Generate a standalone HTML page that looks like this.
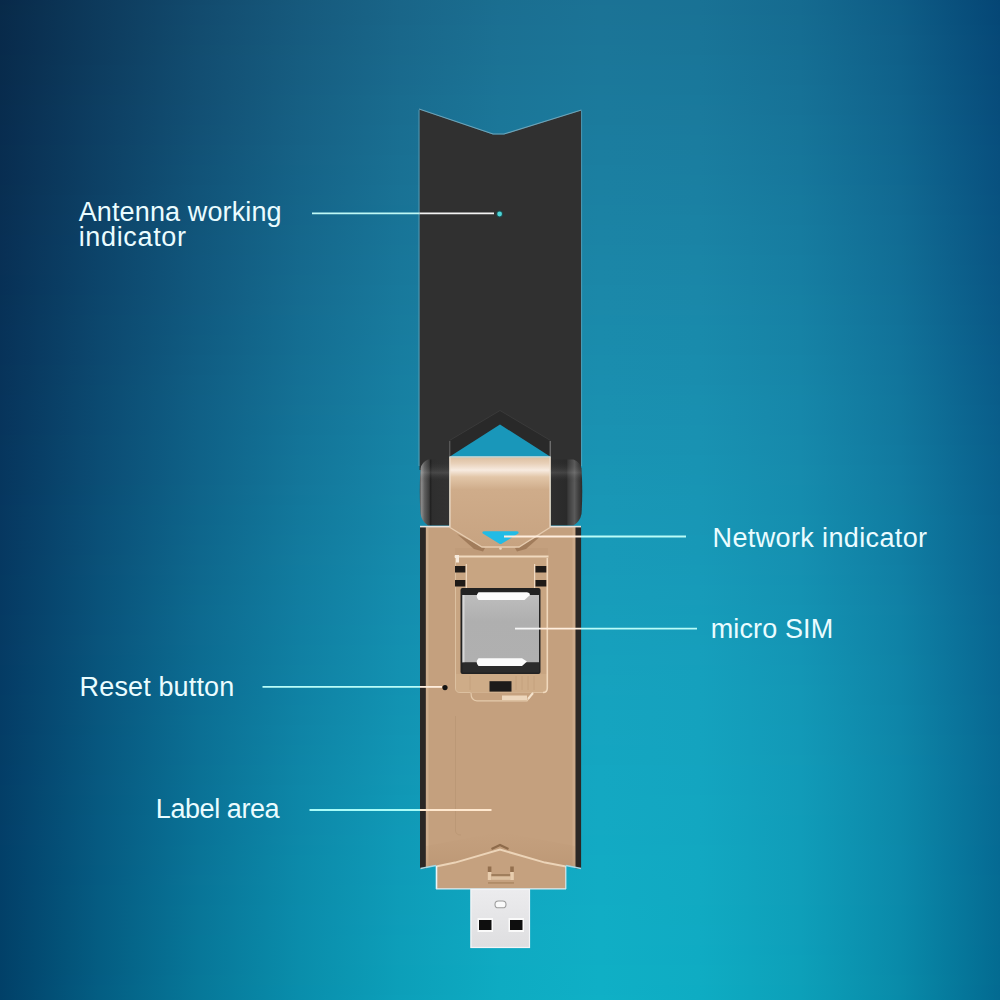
<!DOCTYPE html>
<html><head><meta charset="utf-8">
<style>
html,body{margin:0;padding:0;width:1000px;height:1000px;overflow:hidden;background:#0e6f96}
#bg{position:absolute;left:0;top:0;width:1000px;height:1000px}
#bg i{position:absolute;left:0;width:1000px;height:5px;display:block}
svg{position:absolute;left:0;top:0}
.t{position:absolute;font-family:"Liberation Sans",sans-serif;color:#eafcff;font-size:27px;line-height:24.6px;white-space:nowrap;letter-spacing:0px}
</style></head><body>
<div id="bg">
<i style="top:0px;background:linear-gradient(90deg,#082949 0px,#0d3a5c 100px,#124a6d 200px,#16597c 300px,#196588 400px,#1a6e90 500px,#1b7295 600px,#197295 700px,#156b90 800px,#0e5c86 900px,#054675 1000px)"></i>
<i style="top:5px;background:linear-gradient(90deg,#082a49 0px,#0d3a5c 100px,#124b6e 200px,#16597d 300px,#196588 400px,#1a6e91 500px,#1b7395 600px,#197295 700px,#156b90 800px,#0e5d86 900px,#054676 1000px)"></i>
<i style="top:10px;background:linear-gradient(90deg,#082a49 0px,#0d3b5d 100px,#124b6e 200px,#165a7d 300px,#196689 400px,#1b6f91 500px,#1b7396 600px,#197296 700px,#156b91 800px,#0e5d86 900px,#054776 1000px)"></i>
<i style="top:15px;background:linear-gradient(90deg,#082a4a 0px,#0d3b5d 100px,#124b6e 200px,#165a7d 300px,#196689 400px,#1b6f92 500px,#1b7396 600px,#197396 700px,#156c91 800px,#0e5d87 900px,#054776 1000px)"></i>
<i style="top:20px;background:linear-gradient(90deg,#082a4a 0px,#0d3b5d 100px,#124b6f 200px,#165a7d 300px,#196689 400px,#1b6f92 500px,#1b7496 600px,#197396 700px,#156c91 800px,#0e5e87 900px,#054776 1000px)"></i>
<i style="top:25px;background:linear-gradient(90deg,#082a4a 0px,#0d3b5d 100px,#124c6f 200px,#165a7e 300px,#19678a 400px,#1b7092 500px,#1b7497 600px,#197397 700px,#156c92 800px,#0f5e87 900px,#054877 1000px)"></i>
<i style="top:30px;background:linear-gradient(90deg,#082a4a 0px,#0d3b5e 100px,#124c6f 200px,#165b7e 300px,#19678a 400px,#1b7093 500px,#1b7597 600px,#197497 700px,#156d92 800px,#0f5e87 900px,#054877 1000px)"></i>
<i style="top:35px;background:linear-gradient(90deg,#082a4a 0px,#0d3b5e 100px,#124c6f 200px,#165b7e 300px,#19678a 400px,#1b7093 500px,#1b7597 600px,#197497 700px,#156d92 800px,#0f5f88 900px,#064877 1000px)"></i>
<i style="top:40px;background:linear-gradient(90deg,#082a4b 0px,#0d3c5e 100px,#124c70 200px,#165b7f 300px,#19688b 400px,#1b7193 500px,#1b7598 600px,#197598 700px,#156d93 800px,#0f5f88 900px,#064977 1000px)"></i>
<i style="top:45px;background:linear-gradient(90deg,#082a4b 0px,#0d3c5e 100px,#124d70 200px,#165c7f 300px,#19688b 400px,#1b7194 500px,#1b7698 600px,#197598 700px,#156e93 800px,#0f5f88 900px,#064978 1000px)"></i>
<i style="top:50px;background:linear-gradient(90deg,#082a4b 0px,#0d3c5f 100px,#124d70 200px,#165c7f 300px,#19688c 400px,#1b7294 500px,#1b7699 600px,#197598 700px,#156e93 800px,#0f6089 900px,#064978 1000px)"></i>
<i style="top:55px;background:linear-gradient(90deg,#082b4b 0px,#0d3c5f 100px,#124d71 200px,#165c80 300px,#19698c 400px,#1b7294 500px,#1b7699 600px,#197699 700px,#156e94 800px,#0f6089 900px,#064978 1000px)"></i>
<i style="top:60px;background:linear-gradient(90deg,#082b4c 0px,#0d3c5f 100px,#124d71 200px,#165d80 300px,#19698c 400px,#1b7295 500px,#1b7799 600px,#197699 700px,#156f94 800px,#0f6089 900px,#064a79 1000px)"></i>
<i style="top:65px;background:linear-gradient(90deg,#082b4c 0px,#0d3d60 100px,#124d71 200px,#165d80 300px,#19698d 400px,#1b7395 500px,#1b779a 600px,#19769a 700px,#156f94 800px,#0f618a 900px,#064a79 1000px)"></i>
<i style="top:70px;background:linear-gradient(90deg,#082b4c 0px,#0d3d60 100px,#124e72 200px,#165d81 300px,#196a8d 400px,#1b7395 500px,#1b789a 600px,#19779a 700px,#167095 800px,#0f618a 900px,#064a79 1000px)"></i>
<i style="top:75px;background:linear-gradient(90deg,#082b4c 0px,#0d3d60 100px,#124e72 200px,#165d81 300px,#196a8d 400px,#1b7396 500px,#1b789a 600px,#19779a 700px,#167095 800px,#0f618a 900px,#064b79 1000px)"></i>
<i style="top:80px;background:linear-gradient(90deg,#082b4c 0px,#0d3d60 100px,#124e72 200px,#165e81 300px,#196a8e 400px,#1b7496 500px,#1b789b 600px,#19789b 700px,#167095 800px,#0f628b 900px,#064b7a 1000px)"></i>
<i style="top:85px;background:linear-gradient(90deg,#082b4d 0px,#0d3d61 100px,#124e72 200px,#165e82 300px,#196b8e 400px,#1b7497 500px,#1b799b 600px,#19789b 700px,#167196 800px,#0f628b 900px,#064b7a 1000px)"></i>
<i style="top:90px;background:linear-gradient(90deg,#082b4d 0px,#0d3d61 100px,#124f73 200px,#165e82 300px,#196b8e 400px,#1b7497 500px,#1b799b 600px,#19789b 700px,#167196 800px,#10628b 900px,#074c7a 1000px)"></i>
<i style="top:95px;background:linear-gradient(90deg,#082b4d 0px,#0d3e61 100px,#124f73 200px,#165f82 300px,#196c8f 400px,#1b7597 500px,#1b799c 600px,#19799c 700px,#167196 800px,#10638c 900px,#074c7b 1000px)"></i>
<i style="top:100px;background:linear-gradient(90deg,#082c4d 0px,#0d3e61 100px,#124f73 200px,#165f83 300px,#196c8f 400px,#1b7598 500px,#1b7a9c 600px,#19799c 700px,#167297 800px,#10638c 900px,#074c7b 1000px)"></i>
<i style="top:105px;background:linear-gradient(90deg,#082c4e 0px,#0d3e62 100px,#124f74 200px,#165f83 300px,#196c8f 400px,#1b7598 500px,#1b7a9c 600px,#1a799c 700px,#167297 800px,#10638c 900px,#074c7b 1000px)"></i>
<i style="top:110px;background:linear-gradient(90deg,#082c4e 0px,#0d3e62 100px,#125074 200px,#166083 300px,#196d90 400px,#1b7698 500px,#1b7b9d 600px,#1a7a9d 700px,#167297 800px,#10648c 900px,#074d7b 1000px)"></i>
<i style="top:115px;background:linear-gradient(90deg,#082c4e 0px,#0d3e62 100px,#125074 200px,#166084 300px,#196d90 400px,#1b7699 500px,#1b7b9d 600px,#1a7a9d 700px,#167398 800px,#10648d 900px,#074d7c 1000px)"></i>
<i style="top:120px;background:linear-gradient(90deg,#082c4e 0px,#0d3f63 100px,#125075 200px,#166084 300px,#196d90 400px,#1b7799 500px,#1b7b9d 600px,#1a7b9d 700px,#167398 800px,#10648d 900px,#074d7c 1000px)"></i>
<i style="top:125px;background:linear-gradient(90deg,#082c4f 0px,#0d3f63 100px,#125175 200px,#166084 300px,#196e91 400px,#1b7799 500px,#1b7c9e 600px,#1a7b9e 700px,#167498 800px,#10658d 900px,#074e7c 1000px)"></i>
<i style="top:130px;background:linear-gradient(90deg,#082c4f 0px,#0d3f63 100px,#125175 200px,#166185 300px,#196e91 400px,#1b779a 500px,#1b7c9e 600px,#1a7b9e 700px,#167499 800px,#10658e 900px,#074e7c 1000px)"></i>
<i style="top:135px;background:linear-gradient(90deg,#082c4f 0px,#0d3f63 100px,#125176 200px,#166185 300px,#196e91 400px,#1b789a 500px,#1b7c9f 600px,#1a7c9e 700px,#167499 800px,#10658e 900px,#074e7d 1000px)"></i>
<i style="top:140px;background:linear-gradient(90deg,#082c4f 0px,#0d3f64 100px,#125176 200px,#166185 300px,#196f92 400px,#1b789a 500px,#1b7d9f 600px,#1a7c9f 700px,#167599 800px,#10668e 900px,#074e7d 1000px)"></i>
<i style="top:145px;background:linear-gradient(90deg,#082d4f 0px,#0d4064 100px,#125276 200px,#166286 300px,#196f92 400px,#1b789b 500px,#1b7d9f 600px,#1a7c9f 700px,#16759a 800px,#10668f 900px,#074f7d 1000px)"></i>
<i style="top:150px;background:linear-gradient(90deg,#082d50 0px,#0d4064 100px,#115276 200px,#166286 300px,#196f92 400px,#1b799b 500px,#1b7ea0 600px,#1a7d9f 700px,#16759a 800px,#10668f 900px,#084f7e 1000px)"></i>
<i style="top:155px;background:linear-gradient(90deg,#082d50 0px,#0d4064 100px,#115277 200px,#166286 300px,#197093 400px,#1b799b 500px,#1b7ea0 600px,#1a7da0 700px,#16769a 800px,#10678f 900px,#084f7e 1000px)"></i>
<i style="top:160px;background:linear-gradient(90deg,#082d50 0px,#0d4065 100px,#115277 200px,#166387 300px,#197093 400px,#1b7a9c 500px,#1b7ea0 600px,#1a7ea0 700px,#16769b 800px,#10678f 900px,#08507e 1000px)"></i>
<i style="top:165px;background:linear-gradient(90deg,#082d50 0px,#0d4065 100px,#115377 200px,#156387 300px,#197093 400px,#1b7a9c 500px,#1b7fa1 600px,#1a7ea0 700px,#16769b 800px,#106790 900px,#08507e 1000px)"></i>
<i style="top:170px;background:linear-gradient(90deg,#082d51 0px,#0d4165 100px,#115378 200px,#156387 300px,#197194 400px,#1b7a9d 500px,#1b7fa1 600px,#1a7ea1 700px,#16779b 800px,#106890 900px,#08507f 1000px)"></i>
<i style="top:175px;background:linear-gradient(90deg,#082d51 0px,#0d4165 100px,#115378 200px,#156388 300px,#197194 400px,#1b7b9d 500px,#1b7fa1 600px,#1a7fa1 700px,#16779c 800px,#106890 900px,#08507f 1000px)"></i>
<i style="top:180px;background:linear-gradient(90deg,#082d51 0px,#0d4166 100px,#115378 200px,#156488 300px,#197194 400px,#1b7b9d 500px,#1b80a2 600px,#1a7fa1 700px,#16779c 800px,#106891 900px,#08517f 1000px)"></i>
<i style="top:185px;background:linear-gradient(90deg,#082e51 0px,#0d4166 100px,#115479 200px,#156488 300px,#197295 400px,#1b7b9e 500px,#1b80a2 600px,#1a7fa2 700px,#16789c 800px,#116991 900px,#08517f 1000px)"></i>
<i style="top:190px;background:linear-gradient(90deg,#082e51 0px,#0d4166 100px,#115479 200px,#156489 300px,#197295 400px,#1b7c9e 500px,#1b81a2 600px,#1a80a2 700px,#16789d 800px,#116991 900px,#085180 1000px)"></i>
<i style="top:195px;background:linear-gradient(90deg,#082e52 0px,#0d4267 100px,#115479 200px,#156589 300px,#197295 400px,#1b7c9e 500px,#1b81a3 600px,#1a80a2 700px,#16799d 800px,#116992 900px,#085280 1000px)"></i>
<i style="top:200px;background:linear-gradient(90deg,#082e52 0px,#0d4267 100px,#115479 200px,#156589 300px,#197396 400px,#1b7c9f 500px,#1b81a3 600px,#1a80a3 700px,#16799d 800px,#116a92 900px,#085280 1000px)"></i>
<i style="top:205px;background:linear-gradient(90deg,#082e52 0px,#0d4267 100px,#11557a 200px,#15658a 300px,#187396 400px,#1a7d9f 500px,#1b82a3 600px,#1a81a3 700px,#16799e 800px,#116a92 900px,#085280 1000px)"></i>
<i style="top:210px;background:linear-gradient(90deg,#082e52 0px,#0d4267 100px,#11557a 200px,#15668a 300px,#187397 400px,#1a7d9f 500px,#1b82a4 600px,#1a81a3 700px,#167a9e 800px,#116a92 900px,#085281 1000px)"></i>
<i style="top:215px;background:linear-gradient(90deg,#082e53 0px,#0d4268 100px,#11557a 200px,#15668a 300px,#187497 400px,#1a7ea0 500px,#1b82a4 600px,#1a82a4 700px,#167a9e 800px,#116b93 900px,#085381 1000px)"></i>
<i style="top:220px;background:linear-gradient(90deg,#082f53 0px,#0d4368 100px,#11557b 200px,#15668b 300px,#187497 400px,#1a7ea0 500px,#1b83a4 600px,#1a82a4 700px,#167a9e 800px,#116b93 900px,#085381 1000px)"></i>
<i style="top:225px;background:linear-gradient(90deg,#082f53 0px,#0d4368 100px,#11567b 200px,#15678b 300px,#187498 400px,#1a7ea0 500px,#1b83a5 600px,#1a82a4 700px,#167b9f 800px,#116b93 900px,#085381 1000px)"></i>
<i style="top:230px;background:linear-gradient(90deg,#082f53 0px,#0d4368 100px,#11567b 200px,#15678b 300px,#187598 400px,#1a7fa1 500px,#1b84a5 600px,#1a83a5 700px,#167b9f 800px,#116c94 900px,#085482 1000px)"></i>
<i style="top:235px;background:linear-gradient(90deg,#082f54 0px,#0c4369 100px,#11567c 200px,#15678c 300px,#187598 400px,#1a7fa1 500px,#1b84a5 600px,#1a83a5 700px,#167b9f 800px,#116c94 900px,#095482 1000px)"></i>
<i style="top:240px;background:linear-gradient(90deg,#082f54 0px,#0c4369 100px,#11577c 200px,#15688c 300px,#187599 400px,#1a7fa1 500px,#1b84a6 600px,#1a83a5 700px,#167ca0 800px,#116c94 900px,#095482 1000px)"></i>
<i style="top:245px;background:linear-gradient(90deg,#082f54 0px,#0c4469 100px,#11577c 200px,#15688c 300px,#187699 400px,#1a80a2 500px,#1b85a6 600px,#1a84a6 700px,#167ca0 800px,#116d94 900px,#095482 1000px)"></i>
<i style="top:250px;background:linear-gradient(90deg,#082f54 0px,#0c446a 100px,#11577c 200px,#15688c 300px,#187699 400px,#1a80a2 500px,#1b85a6 600px,#1a84a6 700px,#167ca0 800px,#116d95 900px,#095583 1000px)"></i>
<i style="top:255px;background:linear-gradient(90deg,#082f54 0px,#0c446a 100px,#11577d 200px,#15688d 300px,#18769a 400px,#1a80a2 500px,#1b85a7 600px,#1a85a6 700px,#167da1 800px,#116d95 900px,#095583 1000px)"></i>
<i style="top:260px;background:linear-gradient(90deg,#083055 0px,#0c446a 100px,#11587d 200px,#15698d 300px,#18779a 400px,#1a81a3 500px,#1b86a7 600px,#1a85a7 700px,#167da1 800px,#116e95 900px,#095583 1000px)"></i>
<i style="top:265px;background:linear-gradient(90deg,#083055 0px,#0c446a 100px,#11587d 200px,#15698d 300px,#18779a 400px,#1a81a3 500px,#1b86a7 600px,#1a85a7 700px,#167da1 800px,#116e96 900px,#095683 1000px)"></i>
<i style="top:270px;background:linear-gradient(90deg,#083055 0px,#0c456b 100px,#11587e 200px,#15698e 300px,#18789b 400px,#1a82a3 500px,#1b87a8 600px,#1a86a7 700px,#167ea2 800px,#116e96 900px,#095684 1000px)"></i>
<i style="top:275px;background:linear-gradient(90deg,#073055 0px,#0c456b 100px,#11587e 200px,#156a8e 300px,#18789b 400px,#1a82a4 500px,#1b87a8 600px,#1a86a8 700px,#167ea2 800px,#116e96 900px,#095684 1000px)"></i>
<i style="top:280px;background:linear-gradient(90deg,#073056 0px,#0c456b 100px,#11597e 200px,#156a8e 300px,#18789b 400px,#1a82a4 500px,#1b87a8 600px,#1a86a8 700px,#167ea2 800px,#116f96 900px,#095684 1000px)"></i>
<i style="top:285px;background:linear-gradient(90deg,#073056 0px,#0c456b 100px,#11597e 200px,#156a8f 300px,#18799c 400px,#1a83a4 500px,#1b88a9 600px,#1a87a8 700px,#167fa2 800px,#116f97 900px,#095784 1000px)"></i>
<i style="top:290px;background:linear-gradient(90deg,#073056 0px,#0c456c 100px,#11597f 200px,#156b8f 300px,#18799c 400px,#1a83a5 500px,#1b88a9 600px,#1a87a9 700px,#167fa3 800px,#116f97 900px,#095785 1000px)"></i>
<i style="top:295px;background:linear-gradient(90deg,#073156 0px,#0c466c 100px,#11597f 200px,#156b8f 300px,#18799c 400px,#1a83a5 500px,#1b88a9 600px,#1a87a9 700px,#1680a3 800px,#117097 900px,#095785 1000px)"></i>
<i style="top:300px;background:linear-gradient(90deg,#073156 0px,#0c466c 100px,#115a7f 200px,#156b90 300px,#187a9c 400px,#1a84a5 500px,#1b89aa 600px,#1a88a9 700px,#1680a3 800px,#117097 900px,#095785 1000px)"></i>
<i style="top:305px;background:linear-gradient(90deg,#073157 0px,#0c466c 100px,#115a80 200px,#156c90 300px,#187a9d 400px,#1a84a6 500px,#1b89aa 600px,#1a88aa 700px,#1680a4 800px,#117098 900px,#095885 1000px)"></i>
<i style="top:310px;background:linear-gradient(90deg,#073157 0px,#0c466d 100px,#115a80 200px,#156c90 300px,#187a9d 400px,#1a84a6 500px,#1b8aaa 600px,#1a89aa 700px,#1681a4 800px,#117198 900px,#095886 1000px)"></i>
<i style="top:315px;background:linear-gradient(90deg,#073157 0px,#0c476d 100px,#105b80 200px,#146c91 300px,#187b9d 400px,#1a85a6 500px,#1a8aab 600px,#1989aa 700px,#1681a4 800px,#117198 900px,#095886 1000px)"></i>
<i style="top:320px;background:linear-gradient(90deg,#073157 0px,#0c476d 100px,#105b81 200px,#146d91 300px,#187b9e 400px,#1a85a7 500px,#1a8aab 600px,#1989ab 700px,#1681a5 800px,#117198 900px,#095886 1000px)"></i>
<i style="top:325px;background:linear-gradient(90deg,#073158 0px,#0c476d 100px,#105b81 200px,#146d91 300px,#187b9e 400px,#1a86a7 500px,#1a8bab 600px,#198aab 700px,#1682a5 800px,#117299 900px,#095986 1000px)"></i>
<i style="top:330px;background:linear-gradient(90deg,#073258 0px,#0c476e 100px,#105b81 200px,#146d92 300px,#187c9e 400px,#1a86a7 500px,#1a8bac 600px,#198aab 700px,#1682a5 800px,#117299 900px,#095986 1000px)"></i>
<i style="top:335px;background:linear-gradient(90deg,#073258 0px,#0c476e 100px,#105c81 200px,#146d92 300px,#187c9f 400px,#1a86a8 500px,#1a8bac 600px,#198aab 700px,#1682a5 800px,#117299 900px,#095987 1000px)"></i>
<i style="top:340px;background:linear-gradient(90deg,#073258 0px,#0c486e 100px,#105c82 200px,#146e92 300px,#177c9f 400px,#1a87a8 500px,#1a8cac 600px,#198bac 700px,#1683a6 800px,#11729a 900px,#095987 1000px)"></i>
<i style="top:345px;background:linear-gradient(90deg,#073258 0px,#0c486e 100px,#105c82 200px,#146e92 300px,#177d9f 400px,#1a87a8 500px,#1a8cad 600px,#198bac 700px,#1683a6 800px,#11739a 900px,#095a87 1000px)"></i>
<i style="top:350px;background:linear-gradient(90deg,#073259 0px,#0c486f 100px,#105c82 200px,#146e93 300px,#177da0 400px,#1987a9 500px,#1a8cad 600px,#198bac 700px,#1683a6 800px,#11739a 900px,#095a87 1000px)"></i>
<i style="top:355px;background:linear-gradient(90deg,#073259 0px,#0c486f 100px,#105d83 200px,#146f93 300px,#177da0 400px,#1988a9 500px,#1a8dad 600px,#198cad 700px,#1684a7 800px,#11739a 900px,#095a88 1000px)"></i>
<i style="top:360px;background:linear-gradient(90deg,#073259 0px,#0c486f 100px,#105d83 200px,#146f93 300px,#177ea0 400px,#1988a9 500px,#1a8dae 600px,#198cad 700px,#1684a7 800px,#11749b 900px,#095a88 1000px)"></i>
<i style="top:365px;background:linear-gradient(90deg,#073359 0px,#0c496f 100px,#105d83 200px,#146f94 300px,#177ea1 400px,#1988aa 500px,#1a8dae 600px,#198cad 700px,#1684a7 800px,#11749b 900px,#095b88 1000px)"></i>
<i style="top:370px;background:linear-gradient(90deg,#07335a 0px,#0c4970 100px,#105d83 200px,#147094 300px,#177ea1 400px,#1989aa 500px,#1a8eae 600px,#198dae 700px,#1685a7 800px,#11749b 900px,#095b88 1000px)"></i>
<i style="top:375px;background:linear-gradient(90deg,#07335a 0px,#0c4970 100px,#105e84 200px,#147094 300px,#177fa1 400px,#1989aa 500px,#1a8eaf 600px,#198dae 700px,#1685a8 800px,#11759b 900px,#095b88 1000px)"></i>
<i style="top:380px;background:linear-gradient(90deg,#07335a 0px,#0b4970 100px,#105e84 200px,#147095 300px,#177fa2 400px,#1989ab 500px,#1a8faf 600px,#198dae 700px,#1685a8 800px,#11759c 900px,#095b89 1000px)"></i>
<i style="top:385px;background:linear-gradient(90deg,#07335a 0px,#0b4a70 100px,#105e84 200px,#147195 300px,#177fa2 400px,#198aab 500px,#1a8faf 600px,#198eaf 700px,#1686a8 800px,#11759c 900px,#095c89 1000px)"></i>
<i style="top:390px;background:linear-gradient(90deg,#07335a 0px,#0b4a71 100px,#105f84 200px,#147195 300px,#1780a2 400px,#198aab 500px,#1a8fb0 600px,#198eaf 700px,#1686a8 800px,#11759c 900px,#095c89 1000px)"></i>
<i style="top:395px;background:linear-gradient(90deg,#07335b 0px,#0b4a71 100px,#105f85 200px,#147195 300px,#1780a2 400px,#198aab 500px,#1a90b0 600px,#198faf 700px,#1686a9 800px,#11769c 900px,#095c89 1000px)"></i>
<i style="top:400px;background:linear-gradient(90deg,#07345b 0px,#0b4a71 100px,#105f85 200px,#147196 300px,#1780a3 400px,#198bac 500px,#1a90b0 600px,#198faf 700px,#1687a9 800px,#11769d 900px,#095c89 1000px)"></i>
<i style="top:405px;background:linear-gradient(90deg,#07345b 0px,#0b4a71 100px,#105f85 200px,#147296 300px,#1781a3 400px,#198bac 500px,#1a90b0 600px,#198fb0 700px,#1687a9 800px,#11769d 900px,#095d8a 1000px)"></i>
<i style="top:410px;background:linear-gradient(90deg,#07345b 0px,#0b4b72 100px,#106086 200px,#147296 300px,#1781a3 400px,#198cac 500px,#1a91b1 600px,#1990b0 700px,#1687aa 800px,#11779d 900px,#095d8a 1000px)"></i>
<i style="top:415px;background:linear-gradient(90deg,#07345b 0px,#0b4b72 100px,#106086 200px,#137297 300px,#1781a4 400px,#198cad 500px,#1a91b1 600px,#1990b0 700px,#1687aa 800px,#11779d 900px,#095d8a 1000px)"></i>
<i style="top:420px;background:linear-gradient(90deg,#07345c 0px,#0b4b72 100px,#0f6086 200px,#137397 300px,#1782a4 400px,#198cad 500px,#1a91b1 600px,#1990b1 700px,#1688aa 800px,#11779d 900px,#095d8a 1000px)"></i>
<i style="top:425px;background:linear-gradient(90deg,#07345c 0px,#0b4b72 100px,#0f6086 200px,#137397 300px,#1782a4 400px,#198dad 500px,#1a92b2 600px,#1991b1 700px,#1688aa 800px,#11779e 900px,#095e8a 1000px)"></i>
<i style="top:430px;background:linear-gradient(90deg,#07345c 0px,#0b4b73 100px,#0f6187 200px,#137397 300px,#1682a5 400px,#198dae 500px,#1992b2 600px,#1991b1 700px,#1688ab 800px,#11789e 900px,#095e8b 1000px)"></i>
<i style="top:435px;background:linear-gradient(90deg,#07355c 0px,#0b4c73 100px,#0f6187 200px,#137498 300px,#1683a5 400px,#198dae 500px,#1992b2 600px,#1991b1 700px,#1689ab 800px,#11789e 900px,#095e8b 1000px)"></i>
<i style="top:440px;background:linear-gradient(90deg,#06355c 0px,#0b4c73 100px,#0f6187 200px,#137498 300px,#1683a5 400px,#198eae 500px,#1993b3 600px,#1992b2 700px,#1689ab 800px,#11789e 900px,#095e8b 1000px)"></i>
<i style="top:445px;background:linear-gradient(90deg,#06355d 0px,#0b4c73 100px,#0f6187 200px,#137498 300px,#1683a5 400px,#188eae 500px,#1993b3 600px,#1992b2 700px,#1689ab 800px,#11799f 900px,#095f8b 1000px)"></i>
<i style="top:450px;background:linear-gradient(90deg,#06355d 0px,#0b4c74 100px,#0f6288 200px,#137499 300px,#1684a6 400px,#188eaf 500px,#1993b3 600px,#1892b2 700px,#168aac 800px,#11799f 900px,#095f8b 1000px)"></i>
<i style="top:455px;background:linear-gradient(90deg,#06355d 0px,#0b4c74 100px,#0f6288 200px,#137599 300px,#1684a6 400px,#188faf 500px,#1994b3 600px,#1893b3 700px,#168aac 800px,#11799f 900px,#095f8c 1000px)"></i>
<i style="top:460px;background:linear-gradient(90deg,#06355d 0px,#0b4d74 100px,#0f6288 200px,#137599 300px,#1684a6 400px,#188faf 500px,#1994b4 600px,#1893b3 700px,#168aac 800px,#11799f 900px,#095f8c 1000px)"></i>
<i style="top:465px;background:linear-gradient(90deg,#06355d 0px,#0b4d74 100px,#0f6288 200px,#137599 300px,#1685a7 400px,#188fb0 500px,#1995b4 600px,#1893b3 700px,#168bac 800px,#117aa0 900px,#095f8c 1000px)"></i>
<i style="top:470px;background:linear-gradient(90deg,#06365e 0px,#0b4d75 100px,#0f6389 200px,#13769a 300px,#1685a7 400px,#1890b0 500px,#1995b4 600px,#1894b3 700px,#168bad 800px,#117aa0 900px,#09608c 1000px)"></i>
<i style="top:475px;background:linear-gradient(90deg,#06365e 0px,#0b4d75 100px,#0f6389 200px,#13769a 300px,#1685a7 400px,#1890b0 500px,#1995b5 600px,#1894b4 700px,#168bad 800px,#117aa0 900px,#09608c 1000px)"></i>
<i style="top:480px;background:linear-gradient(90deg,#06365e 0px,#0b4d75 100px,#0f6389 200px,#13769a 300px,#1686a8 400px,#1890b1 500px,#1996b5 600px,#1894b4 700px,#168cad 800px,#117aa0 900px,#09608c 1000px)"></i>
<i style="top:485px;background:linear-gradient(90deg,#06365e 0px,#0a4e75 100px,#0f6489 200px,#13779b 300px,#1686a8 400px,#1891b1 500px,#1996b5 600px,#1895b4 700px,#158cad 800px,#117ba0 900px,#09608d 1000px)"></i>
<i style="top:490px;background:linear-gradient(90deg,#06365e 0px,#0a4e75 100px,#0f648a 200px,#13779b 300px,#1686a8 400px,#1891b1 500px,#1996b5 600px,#1895b4 700px,#158cae 800px,#117ba1 900px,#09618d 1000px)"></i>
<i style="top:495px;background:linear-gradient(90deg,#06365f 0px,#0a4e76 100px,#0f648a 200px,#12779b 300px,#1687a8 400px,#1891b1 500px,#1997b6 600px,#1895b5 700px,#158cae 800px,#117ba1 900px,#09618d 1000px)"></i>
<i style="top:500px;background:linear-gradient(90deg,#06365f 0px,#0a4e76 100px,#0f648a 200px,#12779b 300px,#1687a9 400px,#1892b2 500px,#1997b6 600px,#1896b5 700px,#158dae 800px,#117ba1 900px,#09618d 1000px)"></i>
<i style="top:505px;background:linear-gradient(90deg,#06375f 0px,#0a4f76 100px,#0e658a 200px,#12789c 300px,#1587a9 400px,#1892b2 500px,#1997b6 600px,#1896b5 700px,#158dae 800px,#107ca1 900px,#09618d 1000px)"></i>
<i style="top:510px;background:linear-gradient(90deg,#06375f 0px,#0a4f76 100px,#0e658b 200px,#12789c 300px,#1588a9 400px,#1892b2 500px,#1898b6 600px,#1896b5 700px,#158daf 800px,#107ca1 900px,#09618d 1000px)"></i>
<i style="top:515px;background:linear-gradient(90deg,#06375f 0px,#0a4f77 100px,#0e658b 200px,#12789c 300px,#1588a9 400px,#1893b2 500px,#1898b7 600px,#1896b6 700px,#158eaf 800px,#107ca2 900px,#09628e 1000px)"></i>
<i style="top:520px;background:linear-gradient(90deg,#063760 0px,#0a4f77 100px,#0e658b 200px,#12799c 300px,#1588aa 400px,#1793b3 500px,#1898b7 600px,#1897b6 700px,#158eaf 800px,#107da2 900px,#09628e 1000px)"></i>
<i style="top:525px;background:linear-gradient(90deg,#063760 0px,#0a4f77 100px,#0e668b 200px,#12799d 300px,#1588aa 400px,#1793b3 500px,#1899b7 600px,#1897b6 700px,#158eaf 800px,#107da2 900px,#09628e 1000px)"></i>
<i style="top:530px;background:linear-gradient(90deg,#063760 0px,#0a5077 100px,#0e668c 200px,#12799d 300px,#1589aa 400px,#1794b3 500px,#1899b8 600px,#1897b6 700px,#158eaf 800px,#107da2 900px,#09628e 1000px)"></i>
<i style="top:535px;background:linear-gradient(90deg,#063760 0px,#0a5077 100px,#0e668c 200px,#127a9d 300px,#1589ab 400px,#1794b4 500px,#1899b8 600px,#1798b7 700px,#158fb0 800px,#107da2 900px,#09628e 1000px)"></i>
<i style="top:540px;background:linear-gradient(90deg,#063860 0px,#0a5078 100px,#0e668c 200px,#127a9d 300px,#1589ab 400px,#1794b4 500px,#189ab8 600px,#1798b7 700px,#158fb0 800px,#107ea3 900px,#09638e 1000px)"></i>
<i style="top:545px;background:linear-gradient(90deg,#063860 0px,#0a5078 100px,#0e678c 200px,#127a9e 300px,#158aab 400px,#1795b4 500px,#189ab8 600px,#1798b7 700px,#158fb0 800px,#107ea3 900px,#09638f 1000px)"></i>
<i style="top:550px;background:linear-gradient(90deg,#063861 0px,#0a5078 100px,#0e678d 200px,#127a9e 300px,#158aab 400px,#1795b4 500px,#189ab9 600px,#1799b7 700px,#1590b0 800px,#107ea3 900px,#09638f 1000px)"></i>
<i style="top:555px;background:linear-gradient(90deg,#063861 0px,#0a5178 100px,#0e678d 200px,#127b9e 300px,#158aac 400px,#1795b5 500px,#189ab9 600px,#1799b8 700px,#1590b1 800px,#107ea3 900px,#09638f 1000px)"></i>
<i style="top:560px;background:linear-gradient(90deg,#053861 0px,#0a5178 100px,#0e678d 200px,#127b9e 300px,#158bac 400px,#1796b5 500px,#189bb9 600px,#1799b8 700px,#1590b1 800px,#107ea3 900px,#09638f 1000px)"></i>
<i style="top:565px;background:linear-gradient(90deg,#053861 0px,#0a5179 100px,#0e688d 200px,#117b9f 300px,#158bac 400px,#1796b5 500px,#189bb9 600px,#179ab8 700px,#1590b1 800px,#107fa4 900px,#09638f 1000px)"></i>
<i style="top:570px;background:linear-gradient(90deg,#053861 0px,#0a5179 100px,#0e688e 200px,#117c9f 300px,#148bac 400px,#1796b5 500px,#189bba 600px,#179ab8 700px,#1591b1 800px,#107fa4 900px,#09648f 1000px)"></i>
<i style="top:575px;background:linear-gradient(90deg,#053961 0px,#095179 100px,#0e688e 200px,#117c9f 300px,#148cad 400px,#1797b6 500px,#189cba 600px,#179ab9 700px,#1491b1 800px,#107fa4 900px,#09648f 1000px)"></i>
<i style="top:580px;background:linear-gradient(90deg,#053962 0px,#095279 100px,#0d688e 200px,#117c9f 300px,#148cad 400px,#1697b6 500px,#179cba 600px,#179ab9 700px,#1491b2 800px,#107fa4 900px,#096490 1000px)"></i>
<i style="top:585px;background:linear-gradient(90deg,#053962 0px,#095279 100px,#0d698e 200px,#117ca0 300px,#148cad 400px,#1697b6 500px,#179cba 600px,#179bb9 700px,#1492b2 800px,#1080a4 900px,#096490 1000px)"></i>
<i style="top:590px;background:linear-gradient(90deg,#053962 0px,#09527a 100px,#0d698e 200px,#117da0 300px,#148dad 400px,#1698b6 500px,#179dbb 600px,#179bb9 700px,#1492b2 800px,#1080a4 900px,#096490 1000px)"></i>
<i style="top:595px;background:linear-gradient(90deg,#053962 0px,#09527a 100px,#0d698f 200px,#117da0 300px,#148dae 400px,#1698b7 500px,#179dbb 600px,#179bb9 700px,#1492b2 800px,#1080a5 900px,#096590 1000px)"></i>
<i style="top:600px;background:linear-gradient(90deg,#053962 0px,#09527a 100px,#0d698f 200px,#117da0 300px,#148dae 400px,#1698b7 500px,#179dbb 600px,#179cba 700px,#1492b2 800px,#1080a5 900px,#096590 1000px)"></i>
<i style="top:605px;background:linear-gradient(90deg,#053962 0px,#09527a 100px,#0d6a8f 200px,#117da1 300px,#148dae 400px,#1698b7 500px,#179ebb 600px,#169cba 700px,#1493b3 800px,#1081a5 900px,#096590 1000px)"></i>
<i style="top:610px;background:linear-gradient(90deg,#053963 0px,#09537a 100px,#0d6a8f 200px,#117ea1 300px,#148eae 400px,#1699b7 500px,#179ebb 600px,#169cba 700px,#1493b3 800px,#1081a5 900px,#096590 1000px)"></i>
<i style="top:615px;background:linear-gradient(90deg,#053a63 0px,#09537b 100px,#0d6a90 200px,#117ea1 300px,#148eaf 400px,#1699b8 500px,#179ebc 600px,#169dba 700px,#1493b3 800px,#0f81a5 900px,#096590 1000px)"></i>
<i style="top:620px;background:linear-gradient(90deg,#053a63 0px,#09537b 100px,#0d6a90 200px,#117ea1 300px,#148eaf 400px,#1699b8 500px,#179fbc 600px,#169dbb 700px,#1493b3 800px,#0f81a5 900px,#086591 1000px)"></i>
<i style="top:625px;background:linear-gradient(90deg,#053a63 0px,#09537b 100px,#0d6a90 200px,#107fa1 300px,#148faf 400px,#169ab8 500px,#179fbc 600px,#169dbb 700px,#1494b3 800px,#0f81a5 900px,#086691 1000px)"></i>
<i style="top:630px;background:linear-gradient(90deg,#053a63 0px,#09537b 100px,#0d6b90 200px,#107fa2 300px,#138faf 400px,#169ab8 500px,#179fbc 600px,#169dbb 700px,#1494b4 800px,#0f82a6 900px,#086691 1000px)"></i>
<i style="top:635px;background:linear-gradient(90deg,#053a63 0px,#09547b 100px,#0d6b90 200px,#107fa2 300px,#138faf 400px,#169ab9 500px,#179fbd 600px,#169ebb 700px,#1494b4 800px,#0f82a6 900px,#086691 1000px)"></i>
<i style="top:640px;background:linear-gradient(90deg,#053a63 0px,#09547c 100px,#0d6b91 200px,#107fa2 300px,#138fb0 400px,#159bb9 500px,#16a0bd 600px,#169ebb 700px,#1494b4 800px,#0f82a6 900px,#086691 1000px)"></i>
<i style="top:645px;background:linear-gradient(90deg,#053a64 0px,#09547c 100px,#0c6b91 200px,#1080a2 300px,#1390b0 400px,#159bb9 500px,#16a0bd 600px,#169ebc 700px,#1495b4 800px,#0f82a6 900px,#086691 1000px)"></i>
<i style="top:650px;background:linear-gradient(90deg,#053b64 0px,#09547c 100px,#0c6c91 200px,#1080a3 300px,#1390b0 400px,#159bb9 500px,#16a0bd 600px,#169fbc 700px,#1395b4 800px,#0f82a6 900px,#086691 1000px)"></i>
<i style="top:655px;background:linear-gradient(90deg,#053b64 0px,#08547c 100px,#0c6c91 200px,#1080a3 300px,#1390b0 400px,#159bb9 500px,#16a1bd 600px,#169fbc 700px,#1395b4 800px,#0f83a6 900px,#086691 1000px)"></i>
<i style="top:660px;background:linear-gradient(90deg,#053b64 0px,#08557c 100px,#0c6c91 200px,#1080a3 300px,#1391b1 400px,#159cba 500px,#16a1be 600px,#169fbc 700px,#1395b5 800px,#0f83a6 900px,#086791 1000px)"></i>
<i style="top:665px;background:linear-gradient(90deg,#043b64 0px,#08557c 100px,#0c6c92 200px,#1081a3 300px,#1391b1 400px,#159cba 500px,#16a1be 600px,#159fbc 700px,#1396b5 800px,#0f83a7 900px,#086791 1000px)"></i>
<i style="top:670px;background:linear-gradient(90deg,#043b64 0px,#08557d 100px,#0c6d92 200px,#1081a3 300px,#1391b1 400px,#159cba 500px,#16a1be 600px,#15a0bd 700px,#1396b5 800px,#0f83a7 900px,#086792 1000px)"></i>
<i style="top:675px;background:linear-gradient(90deg,#043b64 0px,#08557d 100px,#0c6d92 200px,#1081a4 300px,#1391b1 400px,#159dba 500px,#16a2be 600px,#15a0bd 700px,#1396b5 800px,#0f83a7 900px,#086792 1000px)"></i>
<i style="top:680px;background:linear-gradient(90deg,#043b65 0px,#08557d 100px,#0c6d92 200px,#1081a4 300px,#1392b1 400px,#159dba 500px,#16a2be 600px,#15a0bd 700px,#1396b5 800px,#0f84a7 900px,#086792 1000px)"></i>
<i style="top:685px;background:linear-gradient(90deg,#043b65 0px,#08557d 100px,#0c6d92 200px,#0f82a4 300px,#1292b2 400px,#159dbb 500px,#16a2bf 600px,#15a0bd 700px,#1397b5 800px,#0f84a7 900px,#086792 1000px)"></i>
<i style="top:690px;background:linear-gradient(90deg,#043b65 0px,#08567d 100px,#0c6d93 200px,#0f82a4 300px,#1292b2 400px,#159dbb 500px,#16a3bf 600px,#15a1bd 700px,#1397b6 800px,#0e84a7 900px,#086792 1000px)"></i>
<i style="top:695px;background:linear-gradient(90deg,#043c65 0px,#08567d 100px,#0c6e93 200px,#0f82a4 300px,#1293b2 400px,#149ebb 500px,#15a3bf 600px,#15a1bd 700px,#1397b6 800px,#0e84a7 900px,#086892 1000px)"></i>
<i style="top:700px;background:linear-gradient(90deg,#043c65 0px,#08567e 100px,#0c6e93 200px,#0f82a5 300px,#1293b2 400px,#149ebb 500px,#15a3bf 600px,#15a1be 700px,#1397b6 800px,#0e84a7 900px,#086892 1000px)"></i>
<i style="top:705px;background:linear-gradient(90deg,#043c65 0px,#08567e 100px,#0c6e93 200px,#0f83a5 300px,#1293b2 400px,#149ebc 500px,#15a3bf 600px,#15a1be 700px,#1397b6 800px,#0e85a8 900px,#086892 1000px)"></i>
<i style="top:710px;background:linear-gradient(90deg,#043c65 0px,#08567e 100px,#0b6e93 200px,#0f83a5 300px,#1293b3 400px,#149fbc 500px,#15a4c0 600px,#15a2be 700px,#1298b6 800px,#0e85a8 900px,#076892 1000px)"></i>
<i style="top:715px;background:linear-gradient(90deg,#043c65 0px,#08567e 100px,#0b6f93 200px,#0f83a5 300px,#1294b3 400px,#149fbc 500px,#15a4c0 600px,#15a2be 700px,#1298b6 800px,#0e85a8 900px,#076892 1000px)"></i>
<i style="top:720px;background:linear-gradient(90deg,#043c66 0px,#08577e 100px,#0b6f94 200px,#0f83a5 300px,#1294b3 400px,#149fbc 500px,#15a4c0 600px,#14a2be 700px,#1298b6 800px,#0e85a8 900px,#076892 1000px)"></i>
<i style="top:725px;background:linear-gradient(90deg,#043c66 0px,#07577e 100px,#0b6f94 200px,#0f84a6 300px,#1294b3 400px,#149fbc 500px,#15a4c0 600px,#14a2be 700px,#1298b7 800px,#0e85a8 900px,#076892 1000px)"></i>
<i style="top:730px;background:linear-gradient(90deg,#043c66 0px,#07577e 100px,#0b6f94 200px,#0f84a6 300px,#1294b3 400px,#14a0bc 500px,#15a5c0 600px,#14a3bf 700px,#1299b7 800px,#0e85a8 900px,#076892 1000px)"></i>
<i style="top:735px;background:linear-gradient(90deg,#043d66 0px,#07577f 100px,#0b6f94 200px,#0f84a6 300px,#1295b4 400px,#14a0bd 500px,#15a5c1 600px,#14a3bf 700px,#1299b7 800px,#0e86a8 900px,#076992 1000px)"></i>
<i style="top:740px;background:linear-gradient(90deg,#043d66 0px,#07577f 100px,#0b7094 200px,#0e84a6 300px,#1195b4 400px,#14a0bd 500px,#15a5c1 600px,#14a3bf 700px,#1299b7 800px,#0e86a8 900px,#076992 1000px)"></i>
<i style="top:745px;background:linear-gradient(90deg,#043d66 0px,#07577f 100px,#0b7094 200px,#0e85a6 300px,#1195b4 400px,#13a0bd 500px,#14a5c1 600px,#14a3bf 700px,#1299b7 800px,#0e86a8 900px,#076992 1000px)"></i>
<i style="top:750px;background:linear-gradient(90deg,#043d66 0px,#07587f 100px,#0b7095 200px,#0e85a6 300px,#1195b4 400px,#13a1bd 500px,#14a6c1 600px,#14a4bf 700px,#1299b7 800px,#0e86a8 900px,#076993 1000px)"></i>
<i style="top:755px;background:linear-gradient(90deg,#043d66 0px,#07587f 100px,#0b7095 200px,#0e85a7 300px,#1196b4 400px,#13a1bd 500px,#14a6c1 600px,#14a4bf 700px,#129ab7 800px,#0d86a9 900px,#076993 1000px)"></i>
<i style="top:760px;background:linear-gradient(90deg,#033d66 0px,#07587f 100px,#0b7095 200px,#0e85a7 300px,#1196b4 400px,#13a1be 500px,#14a6c1 600px,#14a4bf 700px,#129ab7 800px,#0d86a9 900px,#076993 1000px)"></i>
<i style="top:765px;background:linear-gradient(90deg,#033d67 0px,#07587f 100px,#0b7195 200px,#0e86a7 300px,#1196b5 400px,#13a2be 500px,#14a7c2 600px,#14a4c0 700px,#119ab8 800px,#0d87a9 900px,#076993 1000px)"></i>
<i style="top:770px;background:linear-gradient(90deg,#033d67 0px,#07587f 100px,#0a7195 200px,#0e86a7 300px,#1196b5 400px,#13a2be 500px,#14a7c2 600px,#13a5c0 700px,#119ab8 800px,#0d87a9 900px,#076993 1000px)"></i>
<i style="top:775px;background:linear-gradient(90deg,#033d67 0px,#075880 100px,#0a7195 200px,#0e86a7 300px,#1197b5 400px,#13a2be 500px,#14a7c2 600px,#13a5c0 700px,#119ab8 800px,#0d87a9 900px,#076993 1000px)"></i>
<i style="top:780px;background:linear-gradient(90deg,#033d67 0px,#075980 100px,#0a7195 200px,#0e86a7 300px,#1197b5 400px,#13a2be 500px,#14a7c2 600px,#13a5c0 700px,#119bb8 800px,#0d87a9 900px,#076993 1000px)"></i>
<i style="top:785px;background:linear-gradient(90deg,#033e67 0px,#075980 100px,#0a7196 200px,#0e87a8 300px,#1097b5 400px,#13a3be 500px,#14a7c2 600px,#13a5c0 700px,#119bb8 800px,#0d87a9 900px,#066993 1000px)"></i>
<i style="top:790px;background:linear-gradient(90deg,#033e67 0px,#075980 100px,#0a7296 200px,#0d87a8 300px,#1097b5 400px,#12a3be 500px,#13a8c2 600px,#13a5c0 700px,#119bb8 800px,#0d87a9 900px,#066a93 1000px)"></i>
<i style="top:795px;background:linear-gradient(90deg,#033e67 0px,#065980 100px,#0a7296 200px,#0d87a8 300px,#1098b6 400px,#12a3bf 500px,#13a8c2 600px,#13a6c0 700px,#119bb8 800px,#0d87a9 900px,#066a93 1000px)"></i>
<i style="top:800px;background:linear-gradient(90deg,#033e67 0px,#065980 100px,#0a7296 200px,#0d87a8 300px,#1098b6 400px,#12a3bf 500px,#13a8c3 600px,#13a6c1 700px,#119bb8 800px,#0d88a9 900px,#066a93 1000px)"></i>
<i style="top:805px;background:linear-gradient(90deg,#033e67 0px,#065980 100px,#0a7296 200px,#0d87a8 300px,#1098b6 400px,#12a3bf 500px,#13a8c3 600px,#13a6c1 700px,#119bb8 800px,#0d88a9 900px,#066a93 1000px)"></i>
<i style="top:810px;background:linear-gradient(90deg,#033e67 0px,#065a80 100px,#0a7296 200px,#0d88a8 300px,#1098b6 400px,#12a4bf 500px,#13a9c3 600px,#13a6c1 700px,#119cb8 800px,#0c88a9 900px,#066a93 1000px)"></i>
<i style="top:815px;background:linear-gradient(90deg,#033e67 0px,#065a81 100px,#0a7396 200px,#0d88a8 300px,#1099b6 400px,#12a4bf 500px,#13a9c3 600px,#13a6c1 700px,#109cb8 800px,#0c88a9 900px,#066a93 1000px)"></i>
<i style="top:820px;background:linear-gradient(90deg,#033e67 0px,#065a81 100px,#0a7397 200px,#0d88a9 300px,#1099b6 400px,#12a4bf 500px,#13a9c3 600px,#12a7c1 700px,#109cb9 800px,#0c88a9 900px,#066a93 1000px)"></i>
<i style="top:825px;background:linear-gradient(90deg,#033e68 0px,#065a81 100px,#0a7397 200px,#0d88a9 300px,#1099b7 400px,#12a4c0 500px,#13a9c3 600px,#12a7c1 700px,#109cb9 800px,#0c88a9 900px,#066a93 1000px)"></i>
<i style="top:830px;background:linear-gradient(90deg,#033e68 0px,#065a81 100px,#097397 200px,#0d88a9 300px,#1099b7 400px,#12a5c0 500px,#13aac3 600px,#12a7c1 700px,#109cb9 800px,#0c88a9 900px,#066a93 1000px)"></i>
<i style="top:835px;background:linear-gradient(90deg,#033e68 0px,#065a81 100px,#097397 200px,#0d89a9 300px,#0f9ab7 400px,#11a5c0 500px,#12aac3 600px,#12a7c1 700px,#109cb9 800px,#0c88a9 900px,#066a93 1000px)"></i>
<i style="top:840px;background:linear-gradient(90deg,#033f68 0px,#065a81 100px,#097397 200px,#0d89a9 300px,#0f9ab7 400px,#11a5c0 500px,#12aac4 600px,#12a7c1 700px,#109db9 800px,#0c89a9 900px,#066a93 1000px)"></i>
<i style="top:845px;background:linear-gradient(90deg,#023f68 0px,#065a81 100px,#097497 200px,#0c89a9 300px,#0f9ab7 400px,#11a5c0 500px,#12aac4 600px,#12a8c1 700px,#109db9 800px,#0c89aa 900px,#056a93 1000px)"></i>
<i style="top:850px;background:linear-gradient(90deg,#023f68 0px,#065b81 100px,#097497 200px,#0c89a9 300px,#0f9ab7 400px,#11a6c0 500px,#12aac4 600px,#12a8c2 700px,#109db9 800px,#0c89aa 900px,#056a93 1000px)"></i>
<i style="top:855px;background:linear-gradient(90deg,#023f68 0px,#065b81 100px,#097497 200px,#0c8aa9 300px,#0f9ab7 400px,#11a6c0 500px,#12abc4 600px,#12a8c2 700px,#109db9 800px,#0c89aa 900px,#056a93 1000px)"></i>
<i style="top:860px;background:linear-gradient(90deg,#023f68 0px,#065b81 100px,#097497 200px,#0c8aaa 300px,#0f9bb7 400px,#11a6c0 500px,#12abc4 600px,#11a8c2 700px,#0f9db9 800px,#0b89aa 900px,#056a93 1000px)"></i>
<i style="top:865px;background:linear-gradient(90deg,#023f68 0px,#055b81 100px,#097498 200px,#0c8aaa 300px,#0f9bb8 400px,#11a6c0 500px,#12abc4 600px,#11a8c2 700px,#0f9db9 800px,#0b89aa 900px,#056a93 1000px)"></i>
<i style="top:870px;background:linear-gradient(90deg,#023f68 0px,#055b82 100px,#097498 200px,#0c8aaa 300px,#0f9bb8 400px,#11a6c1 500px,#12abc4 600px,#11a9c2 700px,#0f9eb9 800px,#0b89aa 900px,#056a93 1000px)"></i>
<i style="top:875px;background:linear-gradient(90deg,#023f68 0px,#055b82 100px,#097598 200px,#0c8aaa 300px,#0f9bb8 400px,#11a7c1 500px,#12abc4 600px,#11a9c2 700px,#0f9eb9 800px,#0b89aa 900px,#056b93 1000px)"></i>
<i style="top:880px;background:linear-gradient(90deg,#023f68 0px,#055b82 100px,#097598 200px,#0c8baa 300px,#0e9bb8 400px,#10a7c1 500px,#11acc4 600px,#11a9c2 700px,#0f9eb9 800px,#0b89aa 900px,#056b93 1000px)"></i>
<i style="top:885px;background:linear-gradient(90deg,#023f68 0px,#055c82 100px,#087598 200px,#0c8baa 300px,#0e9cb8 400px,#10a7c1 500px,#11acc4 600px,#11a9c2 700px,#0f9eb9 800px,#0b89aa 900px,#056b93 1000px)"></i>
<i style="top:890px;background:linear-gradient(90deg,#023f68 0px,#055c82 100px,#087598 200px,#0b8baa 300px,#0e9cb8 400px,#10a7c1 500px,#11acc5 600px,#11a9c2 700px,#0f9eb9 800px,#0b8aaa 900px,#056b92 1000px)"></i>
<i style="top:895px;background:linear-gradient(90deg,#023f68 0px,#055c82 100px,#087598 200px,#0b8baa 300px,#0e9cb8 400px,#10a7c1 500px,#11acc5 600px,#11a9c2 700px,#0f9eb9 800px,#0b8aaa 900px,#056b92 1000px)"></i>
<i style="top:900px;background:linear-gradient(90deg,#023f68 0px,#055c82 100px,#087598 200px,#0b8baa 300px,#0e9cb8 400px,#10a8c1 500px,#11acc5 600px,#11aac2 700px,#0f9eb9 800px,#0b8aaa 900px,#046b92 1000px)"></i>
<i style="top:905px;background:linear-gradient(90deg,#023f68 0px,#055c82 100px,#087698 200px,#0b8bab 300px,#0e9cb8 400px,#10a8c1 500px,#11adc5 600px,#10aac2 700px,#0e9eb9 800px,#0a8aaa 900px,#046b92 1000px)"></i>
<i style="top:910px;background:linear-gradient(90deg,#024068 0px,#055c82 100px,#087698 200px,#0b8cab 300px,#0e9db8 400px,#10a8c1 500px,#11adc5 600px,#10aac2 700px,#0e9fb9 800px,#0a8aaa 900px,#046b92 1000px)"></i>
<i style="top:915px;background:linear-gradient(90deg,#024068 0px,#055c82 100px,#087698 200px,#0b8cab 300px,#0e9db9 400px,#10a8c1 500px,#11adc5 600px,#10aac2 700px,#0e9fb9 800px,#0a8aaa 900px,#046b92 1000px)"></i>
<i style="top:920px;background:linear-gradient(90deg,#024068 0px,#055c82 100px,#087698 200px,#0b8cab 300px,#0e9db9 400px,#0fa8c2 500px,#10adc5 600px,#10aac2 700px,#0e9fb9 800px,#0a8aaa 900px,#046b92 1000px)"></i>
<i style="top:925px;background:linear-gradient(90deg,#024068 0px,#055c82 100px,#087698 200px,#0b8cab 300px,#0d9db9 400px,#0fa9c2 500px,#10adc5 600px,#10aac3 700px,#0e9fb9 800px,#0a8aaa 900px,#046b92 1000px)"></i>
<i style="top:930px;background:linear-gradient(90deg,#014068 0px,#045d82 100px,#087699 200px,#0b8cab 300px,#0d9db9 400px,#0fa9c2 500px,#10aec5 600px,#10abc3 700px,#0e9fba 800px,#0a8aa9 900px,#046b92 1000px)"></i>
<i style="top:935px;background:linear-gradient(90deg,#014068 0px,#045d82 100px,#077799 200px,#0b8cab 300px,#0d9eb9 400px,#0fa9c2 500px,#10aec5 600px,#10abc3 700px,#0e9fba 800px,#0a8aa9 900px,#046b92 1000px)"></i>
<i style="top:940px;background:linear-gradient(90deg,#014068 0px,#045d82 100px,#077799 200px,#0a8dab 300px,#0d9eb9 400px,#0fa9c2 500px,#10aec5 600px,#10abc3 700px,#0e9fba 800px,#0a8aa9 900px,#046b92 1000px)"></i>
<i style="top:945px;background:linear-gradient(90deg,#014068 0px,#045d82 100px,#077799 200px,#0a8dab 300px,#0d9eb9 400px,#0fa9c2 500px,#10aec5 600px,#0fabc3 700px,#0d9fba 800px,#0a8aa9 900px,#036b92 1000px)"></i>
<i style="top:950px;background:linear-gradient(90deg,#014068 0px,#045d82 100px,#077799 200px,#0a8dab 300px,#0d9eb9 400px,#0faac2 500px,#10aec5 600px,#0fabc3 700px,#0d9fba 800px,#098aa9 900px,#036b92 1000px)"></i>
<i style="top:955px;background:linear-gradient(90deg,#014068 0px,#045d82 100px,#077799 200px,#0a8dab 300px,#0d9eb9 400px,#0faac2 500px,#10aec5 600px,#0fabc3 700px,#0da0ba 800px,#098aa9 900px,#036b92 1000px)"></i>
<i style="top:960px;background:linear-gradient(90deg,#014068 0px,#045d82 100px,#077799 200px,#0a8dab 300px,#0d9fb9 400px,#0faac2 500px,#0faec5 600px,#0fabc3 700px,#0da0b9 800px,#098aa9 900px,#036b91 1000px)"></i>
<i style="top:965px;background:linear-gradient(90deg,#014068 0px,#045d82 100px,#077799 200px,#0a8dab 300px,#0c9fb9 400px,#0eaac2 500px,#0fafc5 600px,#0facc3 700px,#0da0b9 800px,#098aa9 900px,#036b91 1000px)"></i>
<i style="top:970px;background:linear-gradient(90deg,#014068 0px,#045d82 100px,#077799 200px,#0a8eab 300px,#0c9fb9 400px,#0eaac2 500px,#0fafc5 600px,#0facc3 700px,#0da0b9 800px,#098aa9 900px,#036b91 1000px)"></i>
<i style="top:975px;background:linear-gradient(90deg,#014068 0px,#045d83 100px,#077899 200px,#0a8eab 300px,#0c9fb9 400px,#0eaac2 500px,#0fafc5 600px,#0facc3 700px,#0da0b9 800px,#098ba9 900px,#036b91 1000px)"></i>
<i style="top:980px;background:linear-gradient(90deg,#014068 0px,#045d83 100px,#077899 200px,#0a8eab 300px,#0c9fb9 400px,#0eabc2 500px,#0fafc6 600px,#0facc3 700px,#0da0b9 800px,#098ba9 900px,#036b91 1000px)"></i>
<i style="top:985px;background:linear-gradient(90deg,#014068 0px,#045e83 100px,#077899 200px,#098eac 300px,#0c9fb9 400px,#0eabc2 500px,#0fafc6 600px,#0eacc3 700px,#0ca0b9 800px,#098ba9 900px,#036a91 1000px)"></i>
<i style="top:990px;background:linear-gradient(90deg,#014068 0px,#035e83 100px,#067899 200px,#098eac 300px,#0c9fb9 400px,#0eabc2 500px,#0fafc6 600px,#0eacc3 700px,#0ca0b9 800px,#098ba9 900px,#026a91 1000px)"></i>
<i style="top:995px;background:linear-gradient(90deg,#014068 0px,#035e83 100px,#067899 200px,#098eac 300px,#0ca0ba 400px,#0eabc2 500px,#0fb0c6 600px,#0eacc3 700px,#0ca0b9 800px,#088ba9 900px,#026a91 1000px)"></i>
</div>
<svg width="1000" height="1000" viewBox="0 0 1000 1000">
<defs>
<linearGradient id="cylL" gradientUnits="userSpaceOnUse" x1="419.5" x2="449.5" y1="0" y2="0">
<stop offset="0" stop-color="#4a4a4a"/><stop offset="0.07" stop-color="#8a8a8a"/><stop offset="0.17" stop-color="#5e5e5e"/><stop offset="0.32" stop-color="#3c3c3c"/><stop offset="0.37" stop-color="#202020"/><stop offset="0.42" stop-color="#2e2e2e"/><stop offset="1" stop-color="#323232"/>
</linearGradient>
<linearGradient id="cylR" gradientUnits="userSpaceOnUse" x1="550.5" x2="582.5" y1="0" y2="0">
<stop offset="0" stop-color="#2e2e2e"/><stop offset="0.5" stop-color="#2a2a2a"/><stop offset="0.55" stop-color="#3a3a3a"/><stop offset="0.75" stop-color="#5a5a5a"/><stop offset="0.88" stop-color="#3e3e3e"/><stop offset="1" stop-color="#2a2a2a"/>
</linearGradient>
<linearGradient id="cylV" x1="0" x2="0" y1="0" y2="1">
<stop offset="0" stop-color="#000" stop-opacity="0"/><stop offset="0.2" stop-color="#fff" stop-opacity="0.12"/><stop offset="0.35" stop-color="#000" stop-opacity="0"/>
</linearGradient>
<linearGradient id="hingeG" gradientUnits="userSpaceOnUse" x1="0" x2="0" y1="456" y2="547">
<stop offset="0" stop-color="#d9bc9d"/><stop offset="0.08" stop-color="#e8d0b8"/><stop offset="0.155" stop-color="#f7ebe0"/><stop offset="0.23" stop-color="#e2c6a8"/><stop offset="0.37" stop-color="#cfac8a"/><stop offset="1" stop-color="#c7a381"/>
</linearGradient>
<linearGradient id="simG" x1="0" x2="0" y1="0" y2="1">
<stop offset="0" stop-color="#bdbdbd"/><stop offset="0.4" stop-color="#afafaf"/><stop offset="1" stop-color="#b0b0b0"/>
</linearGradient>
<linearGradient id="shadeG" gradientUnits="userSpaceOnUse" x1="0" x2="0" y1="832" y2="866">
<stop offset="0" stop-color="#b8916e" stop-opacity="0"/><stop offset="1" stop-color="#b08a68" stop-opacity="0.35"/>
</linearGradient>
<linearGradient id="usbG" x1="0" x2="0" y1="0" y2="1">
<stop offset="0" stop-color="#ececee"/><stop offset="1" stop-color="#dedee0"/>
</linearGradient>
</defs>
<!-- antenna -->
<polygon points="419.5,109.5 493,134.5 504,134.5 581,110.5 581,470 419.5,470" fill="#303030"/>
<polyline points="419,109 493,134 504,134 581.5,110" fill="none" stroke="#8ab4c4" stroke-width="1.2" opacity="0.75"/>
<line x1="419" y1="110" x2="419" y2="466" stroke="#7fb0c2" stroke-width="1" opacity="0.6"/>
<line x1="581.6" y1="111" x2="581.6" y2="466" stroke="#7fb0c2" stroke-width="1" opacity="0.5"/>
<!-- chevron band -->
<polygon points="500,410.5 550.5,440.5 550.5,457 500,424.5 449.5,457 449.5,440.5" fill="#292929"/>
<polyline points="449.5,440.5 500,410.5 550.5,440.5" fill="none" stroke="#3a3a3a" stroke-width="1"/>
<!-- blue triangle cutout -->
<polygon points="500,424.5 550.5,456.8 449.5,456.8" fill="#1997ba"/>
<line x1="449.8" y1="441" x2="449.8" y2="457" stroke="#6a6a6a" stroke-width="1"/>
<line x1="550.2" y1="441" x2="550.2" y2="457" stroke="#8a8a8a" stroke-width="1"/>
<!-- cylinders -->
<path d="M449.5,459.5 L428,459.5 Q422,462 420.5,468.5 Q419,491 420.5,514 Q422,521.5 428,525.5 L449.5,525.5 Z" fill="url(#cylL)"/>
<path d="M449.5,459.5 L428,459.5 Q422,462 420.5,468.5 Q419,491 420.5,514 Q422,521.5 428,525.5 L449.5,525.5 Z" fill="url(#cylV)"/>
<path d="M550.5,459.5 L573.5,459.5 Q580,462 581.5,468.5 Q583,491 581.5,514 Q580,521.5 573.5,525.5 L550.5,525.5 Z" fill="url(#cylR)"/>
<path d="M550.5,459.5 L573.5,459.5 Q580,462 581.5,468.5 Q583,491 581.5,514 Q580,521.5 573.5,525.5 L550.5,525.5 Z" fill="url(#cylV)"/>
<!-- body -->
<path d="M420,526 L581,526 L581,868.5 L566,865.5 L436,865.5 L420,868.5 Z" fill="#c4a07e"/>
<rect x="420" y="526" width="5.8" height="342.5" fill="#2b2725"/>
<rect x="575.5" y="526" width="5.6" height="342.5" fill="#2b2725"/>
<rect x="426" y="528" width="2.5" height="338" fill="#d2b192" opacity="0.8"/>
<rect x="572.5" y="528" width="2.5" height="338" fill="#d2b192" opacity="0.6"/>
<line x1="420" y1="526.6" x2="450" y2="526.6" stroke="#e6e3de" stroke-width="1.6"/>
<line x1="550" y1="526.6" x2="581" y2="526.6" stroke="#e6e3de" stroke-width="1.6"/>
<!-- band under hinge -->
<rect x="455" y="548" width="93" height="8" fill="#c09c7a"/>
<polygon points="457,534 485,548 483,551.5 474,549" fill="#9b7655" opacity="0.85"/>
<polygon points="543,534 515,548 517,551.5 526,549" fill="#9b7655" opacity="0.85"/>
<!-- hinge block -->
<path d="M449.5,456.5 L550.5,456.5 L550.5,527.5 L519,547 L482,547 L449.5,527.5 Z" fill="url(#hingeG)"/>
<line x1="449.9" y1="457" x2="449.9" y2="527.5" stroke="#f0e2d2" stroke-width="1.2"/>
<line x1="550.1" y1="457" x2="550.1" y2="527.5" stroke="#f0e2d2" stroke-width="1.2"/>
<line x1="449.5" y1="456.9" x2="550.5" y2="456.9" stroke="#b4dbe4" stroke-width="1.3"/>
<polyline points="450,527.5 482,547 519,547 550,527.5" fill="none" stroke="#e6ccb0" stroke-width="1.3"/>
<circle cx="500.5" cy="548.5" r="1.3" fill="#e8d6c2"/>
<!-- network indicator -->
<path d="M484.5,531.3 L516.5,531.3 Q520,531.6 517.8,533.8 L502,543.6 Q500.5,544.6 499,543.6 L483.2,533.8 Q481,531.6 484.5,531.3 Z" fill="#22bbe5"/>
<!-- tray -->
<path d="M455,557.5 L547.8,557.5 L547.8,688 Q547.8,692.8 543,692.8 L460,692.8 Q455,692.8 455,688 Z" fill="#c8a582"/>
<path d="M456,674 L547,674 L547,688 Q547,692 543,692 L460,692 Q456,692 456,688 Z" fill="#ceac88"/>
<g stroke="#bb9775" stroke-width="0.8" opacity="0.6"><line x1="516" y1="676" x2="516" y2="690"/><line x1="522" y1="676" x2="522" y2="690"/><line x1="528" y1="676" x2="528" y2="690"/><line x1="534" y1="676" x2="534" y2="690"/><line x1="470" y1="676" x2="470" y2="690"/></g>
<line x1="454.5" y1="556.6" x2="548.5" y2="556.6" stroke="#f0d9be" stroke-width="2"/>
<rect x="455" y="555" width="4" height="7.5" fill="#f6eadc"/>
<path d="M455.5,558 L455.5,688 Q455.5,692.5 460,692.5 L543,692.5" fill="none" stroke="#dcc0a0" stroke-width="1"/>
<path d="M547.3,558 L547.3,688 Q547.3,692.5 543,692.5" fill="none" stroke="#f0d8bc" stroke-width="1.6"/>
<rect x="455" y="566" width="10.5" height="6.5" fill="#1e1a17"/>
<rect x="455" y="580" width="10.5" height="6.5" fill="#1e1a17"/>
<rect x="535.3" y="566" width="11" height="6.5" fill="#1e1a17"/>
<rect x="535.3" y="580" width="11" height="6.5" fill="#1e1a17"/>
<line x1="466.3" y1="564" x2="466.3" y2="588" stroke="#f2dcc4" stroke-width="1.2"/>
<line x1="534.6" y1="564" x2="534.6" y2="588" stroke="#f2dcc4" stroke-width="1.2"/>
<!-- sim frame -->
<rect x="460.5" y="588" width="80" height="86" rx="2" fill="#222222"/>
<rect x="462.5" y="595" width="76.5" height="67.5" fill="url(#simG)"/>
<rect x="462.5" y="595" width="2" height="67.5" fill="#d6d6d6"/>
<rect x="462.5" y="662.5" width="76.5" height="10" fill="#2b2b2b"/>
<path d="M478.5,592.2 L527,592.2 Q531,592.8 529.5,595.5 L524.5,600 L478.5,600 Q474.8,596 478.5,592.2 Z" fill="#fbfbfb"/>
<path d="M478.5,658.2 L522,658.2 L527,661.5 L522,666 L478.5,666 Q474.8,662 478.5,658.2 Z" fill="#fbfbfb"/>
<!-- below sim -->
<rect x="489.5" y="681.2" width="22" height="10.4" fill="#1d1b1a"/>
<path d="M470.5,692.5 L533,692.5 L529,700 Q528,701.5 526,701.5 L476,701.5 Q472,701.5 471.5,698 Z" fill="#c6a27f"/>
<path d="M471,693 Q471,700.8 477,700.8 L527,700.8 L533,692.5" fill="none" stroke="#e4caac" stroke-width="1.2"/>
<rect x="502" y="695.5" width="25" height="4.5" fill="#ecd6bc"/>
<line x1="528" y1="699" x2="533" y2="693" stroke="#f4e2cc" stroke-width="2"/>
<!-- reset dot -->
<circle cx="445" cy="687.6" r="2.6" fill="#121212"/>
<!-- label area outline -->
<path d="M455.5,716 L455.5,831 Q456,835 461,835" fill="none" stroke="#b49170" stroke-width="1" opacity="0.55"/>
<!-- bottom cap -->
<polygon points="426,846 500,832 575,846 575,866 426,866" fill="url(#shadeG)"/>
<polygon points="436,866.5 455,862.5 500,849.5 545,862.5 566,866.5 566,889 436,889" fill="#c5a17f"/>
<polyline points="491.5,849 500,845 508.5,849" fill="none" stroke="#8e6b4b" stroke-width="2.2"/>
<polyline points="436,866.6 455,862.6 500,849.6 545,862.6 566,866.6" fill="none" stroke="#ecd4b8" stroke-width="2"/>
<line x1="420.5" y1="868.6" x2="436" y2="865.6" stroke="#a8d8e4" stroke-width="1.5"/>
<line x1="566" y1="865.6" x2="581" y2="868.6" stroke="#a8d8e4" stroke-width="1.5"/>
<line x1="436.5" y1="866" x2="436.5" y2="889" stroke="#e6f6fa" stroke-width="1.6"/>
<line x1="436" y1="888.8" x2="566" y2="888.8" stroke="#d8eef4" stroke-width="1.3"/>
<line x1="565.8" y1="866" x2="565.8" y2="889" stroke="#d0eaf0" stroke-width="1.2"/>
<!-- U bracket -->
<rect x="487.8" y="866.5" width="3.6" height="5.5" fill="#94704f"/>
<rect x="510.2" y="866.5" width="3.6" height="5.5" fill="#94704f"/>
<rect x="487.8" y="872" width="3.6" height="8" fill="#e8cdae"/>
<rect x="510.2" y="872" width="3.6" height="8" fill="#e8cdae"/>
<rect x="491.4" y="874" width="18.8" height="2.4" fill="#a07e5c"/>
<rect x="491.4" y="876.4" width="18.8" height="3.4" fill="#dcc0a0"/>
<rect x="488" y="882" width="26" height="1.8" fill="#b08c68"/>
<!-- USB -->
<rect x="470.5" y="889" width="59.5" height="59" fill="url(#usbG)"/>
<rect x="471" y="889.5" width="58.5" height="58" fill="none" stroke="#f3f5f7" stroke-width="1.2"/>
<rect x="477.5" y="918" width="15.5" height="14" fill="#fafafa"/>
<rect x="508.5" y="918" width="15.5" height="14" fill="#fafafa"/>
<rect x="479" y="920" width="12.5" height="10" fill="#0e0e0e"/>
<rect x="510" y="920" width="12.5" height="10" fill="#0e0e0e"/>
<rect x="495" y="901" width="11" height="6.8" rx="3.4" fill="#fafafa" stroke="#9c9c9c" stroke-width="1.1"/>
<!-- callout lines -->
<g stroke-width="1.8" fill="none">
<line x1="312" y1="213.4" x2="419.5" y2="213.4" stroke="#bff9f6"/>
<line x1="419.5" y1="213.4" x2="494" y2="213.4" stroke="#f4f4f4"/>
<line x1="504" y1="536.5" x2="581" y2="536.5" stroke="#ffeede"/>
<line x1="581" y1="536.5" x2="686" y2="536.5" stroke="#bafcf8"/>
<line x1="515" y1="628.6" x2="540" y2="628.6" stroke="#f6f6f6"/>
<line x1="540" y1="628.6" x2="581" y2="628.6" stroke="#ffeede"/>
<line x1="581" y1="628.6" x2="697" y2="628.6" stroke="#bafcf8"/>
<line x1="262.5" y1="686.9" x2="420" y2="686.9" stroke="#bafcf8"/>
<line x1="420" y1="686.9" x2="442" y2="686.9" stroke="#ffeede"/>
<line x1="309.5" y1="810" x2="420" y2="810" stroke="#a8fcf8"/>
<line x1="420" y1="810" x2="491.5" y2="810" stroke="#ffe8cf"/>
</g>
<circle cx="499.6" cy="214" r="3.4" fill="#1d4a4c"/><circle cx="499.6" cy="214" r="2.4" fill="#4cd4d6"/>
</svg>
<div class="t" style="left:78.7px;top:199.7px;letter-spacing:0.13px">Antenna working</div>
<div class="t" style="left:78.7px;top:225.3px;letter-spacing:0.65px">indicator</div>
<div class="t" style="left:712.6px;top:525.9px;letter-spacing:0.37px">Network indicator</div>
<div class="t" style="left:710.7px;top:616.9px;letter-spacing:0.12px">micro SIM</div>
<div class="t" style="left:79.6px;top:675.3px;letter-spacing:0.14px">Reset button</div>
<div class="t" style="left:155.8px;top:797.3px;letter-spacing:-0.42px">Label area</div>
</body></html>
